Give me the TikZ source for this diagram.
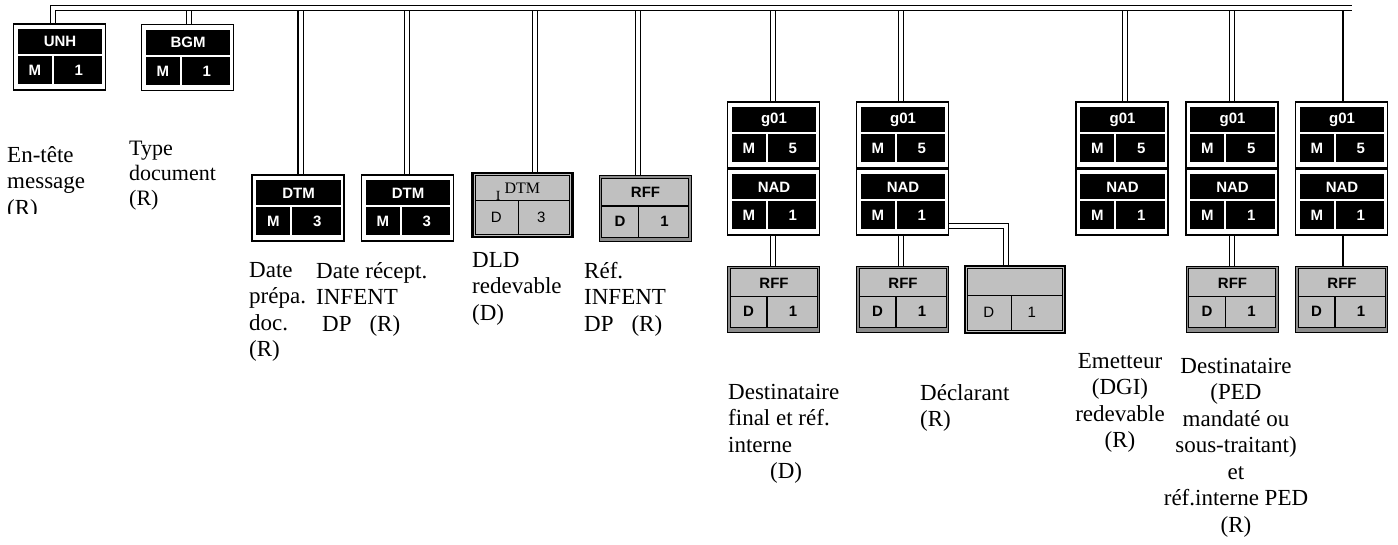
\documentclass[tikz,border=0pt]{standalone}
\usepackage{fontspec}
\setmainfont{Liberation Serif}
\newfontfamily\arialf{Liberation Sans}
\usetikzlibrary{calc,backgrounds}
\definecolor{boxgray}{HTML}{C0C0C0}
\definecolor{bandgray}{HTML}{8C8C8C}
\tikzset{
  dbl/.style={draw=black,double=white,double distance=4pt,line width=1.1pt},
  sgl/.style={draw=black,line width=1.1pt},
  outerB/.style={draw=black,line width=1.2pt,fill=white,minimum width=92pt,minimum height=66pt,inner sep=0pt},
  outerG/.style={draw=black,line width=1pt,fill=bandgray,minimum width=92pt,minimum height=66pt,inner sep=0pt},
  outerP/.style={draw=black,line width=2.4pt,fill=boxgray,minimum width=100pt,minimum height=66pt,inner sep=0pt},
  celltxt/.style={font=\arialf\bfseries\fontsize{15}{17}\selectfont,inner sep=0pt},
  celltxtw/.style={celltxt,text=white},
  plaintxt/.style={font=\arialf\fontsize{15}{17}\selectfont,inner sep=0pt},
  lbl/.style={font=\fontsize{23}{26.5}\selectfont,align=left,inner sep=0pt,anchor=north west},
  lblc/.style={font=\fontsize{23}{26.5}\selectfont,align=center,inner sep=0pt,anchor=north},
}
% black segment box: name, cx, cy, top, left, right
\newcommand\segblack[6]{%
  \node[outerB] (#1) at (#2,#3) {};
  \fill[black] ($(#1.north west)+(5,6)$) rectangle ($(#1.north east)+(-4,31)$);
  \fill[black] ($(#1.north west)+(5,33)$) rectangle ($(#1.north west)+(39,61)$);
  \fill[black] ($(#1.north west)+(41,33)$) rectangle ($(#1.north east)+(-4,61)$);
  \node[celltxtw] (#1-t) at ($(#1.north)+(0.5,18.5)$) {#4};
  \node[celltxtw] (#1-l) at ($(#1.north west)+(22,47)$) {#5};
  \node[celltxtw] (#1-r) at ($(#1.north west)+(66,47)$) {#6};
}
% grey segment box (bold): name, cx, cy, top, left, right
\newcommand\seggrey[6]{%
  \node[outerG] (#1) at (#2,#3) {};
  \filldraw[fill=boxgray,draw=black,line width=1pt] ($(#1.north west)+(3,3)$) rectangle ($(#1.south east)+(-3,-5)$);
  \draw[black,line width=1.2pt] ($(#1.north west)+(3,31)$) -- ($(#1.north east)+(-3,31)$);
  \draw[black,line width=1.2pt] ($(#1.north west)+(40,31)$) -- ($(#1.south west)+(40,-5)$);
  \node[celltxt] (#1-t) at ($(#1.north)+(0.5,17.5)$) {#4};
  \node[celltxt] (#1-l) at ($(#1.north west)+(21.5,46)$) {#5};
  \node[celltxt] (#1-r) at ($(#1.north west)+(66,46)$) {#6};
}
\begin{document}
\begin{tikzpicture}[x=1pt,y=-1pt]
\useasboundingbox (0,0) rectangle (1398,544);
% ---------- boxes ----------
\segblack{unh}{59.5}{57}{UNH}{M}{1}
\segblack{bgm}{187.5}{57.5}{BGM}{M}{1}
\segblack{dtma}{298}{208}{DTM}{M}{3}
\segblack{dtmb}{407.5}{208}{DTM}{M}{3}
% plain grey DTM
\node[outerP,minimum width=100pt,minimum height=64pt] (dtmc) at (522.5,205) {};
\draw[black,line width=1pt] ($(dtmc.north west)+(4,4)$) rectangle ($(dtmc.south east)+(-4,-4)$);
\draw[black,line width=1.2pt] ($(dtmc.north west)+(4,29)$) -- ($(dtmc.north east)+(-4,29)$);
\draw[black,line width=1.2pt] ($(dtmc.north west)+(47,29)$) -- ($(dtmc.south west)+(47,-4)$);
\node[font=\fontsize{16}{17}\selectfont,inner sep=0pt] (dtmc-t) at ($(dtmc.north west)+(51,16)$) {DTM};
\node[font=\fontsize{14}{15}\selectfont,inner sep=0pt] (dtmc-i) at ($(dtmc.north west)+(27,24)$) {I};
\node[plaintxt] (dtmc-l) at ($(dtmc.north west)+(25,46)$) {D};
\node[plaintxt] (dtmc-r) at ($(dtmc.north west)+(70,46)$) {3};
\seggrey{rffa}{645}{208.5}{RFF}{D}{1}
% groups
\segblack{ga}{773.5}{135}{g01}{M}{5}
\segblack{na}{773.5}{202}{NAD}{M}{1}
\seggrey{ra}{773.5}{299}{RFF}{D}{1}
\segblack{gb}{902.5}{135}{g01}{M}{5}
\segblack{nb}{902.5}{202}{NAD}{M}{1}
\seggrey{rb}{902.5}{299}{RFF}{D}{1}
\node[outerP,minimum width=100pt,minimum height=67pt] (decl) at (1015,299.5) {};
\draw[black,line width=1pt] ($(decl.north west)+(4,4)$) rectangle ($(decl.south east)+(-4,-4)$);
\draw[black,line width=1.2pt] ($(decl.north west)+(4,31)$) -- ($(decl.north east)+(-4,31)$);
\draw[black,line width=1.2pt] ($(decl.north west)+(48,31)$) -- ($(decl.south west)+(48,-4)$);
\node[plaintxt] (decl-l) at ($(decl.north west)+(25,48)$) {D};
\node[plaintxt] (decl-r) at ($(decl.north west)+(68,48)$) {1};
\segblack{gc}{1122}{135}{g01}{M}{5}
\segblack{nc}{1122}{202}{NAD}{M}{1}
\segblack{gd}{1232}{135}{g01}{M}{5}
\segblack{nd}{1232}{202}{NAD}{M}{1}
\seggrey{rd}{1232}{299}{RFF}{D}{1}
\segblack{ge}{1341.5}{135}{g01}{M}{5}
\segblack{ne}{1341.5}{202}{NAD}{M}{1}
\seggrey{re}{1341.5}{299}{RFF}{D}{1}
% ---------- connectors ----------
\coordinate (busL) at (53,8);
\coordinate (busR) at (1352,8);
\coordinate (cbgm) at (189,8);
\coordinate (cdtma) at (300.5,8);
\coordinate (cdtmb) at (407,8);
\coordinate (cdtmc) at (535,8);
\coordinate (crffa) at (638,8);
\coordinate (cga) at (773,8);
\coordinate (cgb) at (901,8);
\coordinate (cgc) at (1125,8);
\coordinate (cgd) at (1232,8);
\coordinate (cge) at (1343,8);
\coordinate (cdecl) at (1006,0);
\begin{pgfonlayer}{background}
\draw[dbl] (cbgm) -- (cbgm |- bgm.north);
\draw[dbl] (cdtma) -- (cdtma |- dtma.north);
\draw[dbl] (cdtmb) -- (cdtmb |- dtmb.north);
\draw[dbl] (cdtmc) -- (cdtmc |- dtmc.north);
\draw[dbl] (crffa) -- (crffa |- rffa.north);
\draw[dbl] (cga) -- (cga |- ga.north);
\draw[dbl] (cga |- ga.south) -- (cga |- na.north);
\draw[dbl] (cga |- na.south) -- (cga |- ra.north);
\draw[dbl] (cgb) -- (cgb |- gb.north);
\draw[dbl] (cgb |- gb.south) -- (cgb |- nb.north);
\draw[dbl] (cgb |- nb.south) -- (cgb |- rb.north);
\draw[dbl] ($(nb.east)+(0,24)$) -| (cdecl |- decl.north);
\draw[dbl] (cgc) -- (cgc |- gc.north);
\draw[dbl] (cgd) -- (cgd |- gd.north);
\draw[dbl] (cgd |- gd.south) -- (cgd |- nd.north);
\draw[dbl] (cgd |- nd.south) -- (cgd |- rd.north);
\draw[sgl] (cge) -- (cge |- ge.north);
\draw[sgl] (cge |- ge.south) -- (cge |- ne.north);
\draw[sgl] (cge |- ne.south) -- (cge |- re.north);
\draw[dbl] (busL |- unh.north) -- (busL) -- (busR);
\end{pgfonlayer}
% ---------- labels ----------
\begin{scope}
\clip (0,120) rectangle (125,213);
\node[lbl] (lentete) at (7,146) {En-tête\\message\\(R)};
\end{scope}
\node[lbl,font=\fontsize{22}{25}\selectfont] (ltype) at (129,141) {Type\\document\\(R)};
\node[lbl] (ldatea) at (249,262) {Date\\prépa.\\doc.\\(R)};
\node[lbl] (ldateb) at (316,262) {Date récept.\\INFENT\\\hspace*{6pt}DP\hspace{18pt}(R)};
\node[lbl] (ldld) at (472,252) {DLD\\redevable\\(D)};
\node[lbl] (lref) at (584,262) {Réf.\\INFENT\\DP\hspace{18pt}(R)};
\node[lbl] (ldesta) at (728,384) {Destinataire\\final et réf.\\interne\\\hspace*{42pt}(D)};
\node[lbl] (ldecl) at (920,384) {Déclarant\\(R)};
\node[lblc] (lemet) at (1120,353) {Emetteur\\(DGI)\\redevable\\(R)};
\node[lblc] (ldestb) at (1236,358) {Destinataire\\(PED\\mandaté ou\\sous-traitant)\\et\\réf.interne PED\\(R)};
\end{tikzpicture}
\end{document}
